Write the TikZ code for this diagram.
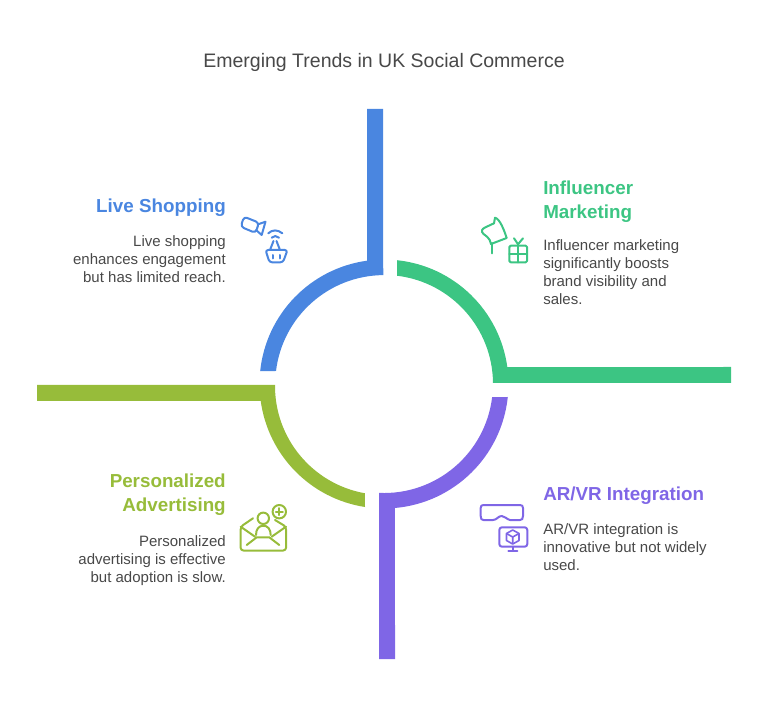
\documentclass[tikz,border=0pt]{standalone}
\usepackage{fontspec}
\setmainfont{Liberation Sans}
\definecolor{cblue}{HTML}{4A86E0}
\definecolor{cgreen}{HTML}{3CC583}
\definecolor{cviolet}{HTML}{7F66E6}
\definecolor{colive}{HTML}{97BC3A}
\definecolor{ctext}{HTML}{484848}
\begin{document}
\begin{tikzpicture}[x=0.75pt, y=0.75pt, yscale=-1]
	\tikzset{
		ttl/.style={inner sep=0pt, text=ctext, font=\fontsize{14.63}{18}\selectfont},
		hd/.style={inner sep=0pt, font=\fontsize{14.1}{18}\selectfont\bfseries},
		bd/.style={inner sep=0pt, text=ctext, font=\fontsize{11.25}{13.5}\selectfont},
		ic/.style={line width=1.5pt, line join=round, line cap=round}
	};
	\useasboundingbox (0, 0) rectangle (768, 720);

	\node[ttl] (title) at (384, 62.5) {Emerging Trends in UK Social Commerce};

	\fill[cblue] (367, 109) -- (367, 260.7) arc[start angle=-97.85, end angle=-174, radius=124.5] -- (276, 371) arc[start angle=-173.1, end angle=-90.5, radius=109] -- (383, 109) -- cycle;
	\fill[cgreen] (397, 260.2) arc[start angle=-84, end angle=-7.85, radius=124.5] -- (731, 367) -- (731, 383) -- (493, 383) arc[start angle=-0.5, end angle=-83.15, radius=109] -- cycle;
	\fill[cviolet] (507.8, 397) arc[start angle=6, end angle=84.93, radius=124.5] -- (395, 659) -- (379, 659) -- (379, 492.9) arc[start angle=92.6, end angle=6.85, radius=109] -- cycle;
	\fill[colive] (37, 385) -- (275, 385) arc[start angle=180.5, end angle=100.1, radius=109] -- (365, 507) arc[start angle=98.8, end angle=172.15, radius=124.5] -- (37, 401) -- cycle;

	\node[hd, text=cblue, anchor=east] (h1) at (226, 208) {Live Shopping};
	\node[bd, anchor=north east, align=right] (b1) at (226, 235.5) {Live shopping\\enhances engagement\\but has limited reach.};

	\node[hd, text=cgreen, anchor=north west, align=left] (h2) at (543, 181) {Influencer\\Marketing};
	\node[bd, anchor=north west, align=left] (b2) at (543, 239) {Influencer marketing\\significantly boosts\\brand visibility and\\sales.};

	\node[hd, text=cviolet, anchor=west] (h3) at (543, 496) {AR/VR Integration};
	\node[bd, anchor=north west, align=left] (b3) at (543, 523.5) {AR/VR integration is\\innovative but not widely\\used.};

	\node[hd, text=colive, anchor=north east, align=right] (h4) at (226, 474) {Personalized\\Advertising};
	\node[bd, anchor=north east, align=right] (b4) at (226, 535.5) {Personalized\\advertising is effective\\but adoption is slow.};

	\draw[ic, cblue, rounded corners=2.5pt] (244, 216.7) -- (259, 222.7) -- (255.5, 233) -- (240.7, 226.7) -- cycle;
	\draw[ic, cblue] (259, 224) -- (265.5, 221.7) -- (261.7, 235) -- (256, 230);
	\draw[ic, cblue] (268.3, 233.3) .. controls (272, 229.5) and (278, 229.5) .. (282.3, 233.3);
	\draw[ic, cblue] (271.7, 237.7) .. controls (273.5, 235.5) and (277, 235.5) .. (279, 237.7);
	\draw[ic, cblue] (273.5, 241) -- (270, 250) (276.5, 241) -- (280, 250);
	\draw[ic, cblue, rounded corners=2pt] (265.5, 250) -- (287.5, 250) -- (283, 262.3) -- (269.5, 262.3) -- cycle;
	\draw[ic, cblue] (272.7, 255) -- (272.7, 258.5) (280, 255) -- (280, 258.5);

	\draw[ic, cgreen] (495, 217.7) .. controls (500, 219) and (504, 230) .. (506.7, 238) -- (491, 244) .. controls (490, 238) and (486, 236) .. (483.5, 234) .. controls (480.5, 231) and (482, 229) .. (485, 227.5) -- (494, 223.3) -- cycle;
	\draw[ic, cgreen] (491.7, 243) -- (491.7, 253.3);
	\draw[ic, cgreen, rounded corners=1pt] (509.3, 245.7) rectangle (527, 262.3);
	\draw[ic, cgreen] (518, 245.7) -- (518, 262.3) (509.3, 254) -- (527, 254);
	\draw[ic, cgreen] (514, 238.3) -- (518, 244.3) -- (523, 238.3);

	\draw[ic, cviolet] (483.5, 505) -- (520, 505) .. controls (522, 505) and (523, 506) .. (523, 508) -- (523, 516) .. controls (523, 519) and (522, 520) .. (520, 520) -- (510, 520) .. controls (506, 519) and (505, 516) .. (501.7, 516) .. controls (498, 516) and (497, 520) .. (493, 520) -- (483.5, 520) .. controls (481.5, 520) and (480.7, 519) .. (480.7, 516) -- (480.7, 508) .. controls (480.7, 506) and (481.5, 505) .. (483.5, 505) -- cycle;
	\draw[ic, cviolet, rounded corners=2pt] (499.3, 527.3) rectangle (527.3, 546.7);
	\draw[ic, cviolet] (512.7, 546.7) -- (512.7, 550.7) (508.3, 550.7) -- (517.3, 550.7);
	\draw[line width=1.2pt, line join=round, cviolet] (512.7, 530) -- (519, 533.5) -- (519, 540.5) -- (512.7, 544) -- (506.5, 540.5) -- (506.5, 533.5) -- cycle;
	\draw[line width=1.2pt, line join=round, cviolet] (506.5, 533.5) -- (512.7, 537) -- (519, 533.5) (512.7, 537) -- (512.7, 544);

	\draw[ic, colive, rounded corners=2pt] (253, 518.3) -- (240.7, 526.7) -- (240.7, 550.5) -- (286, 550.5) -- (286, 526.7) -- (275, 520);
	\draw[ic, colive] (240.7, 526.7) -- (255, 536.7);
	\draw[ic, colive] (286, 526.7) -- (271.7, 536.7);
	\draw[ic, colive] (246.7, 545) -- (256.7, 537.3) -- (269.3, 537.3) -- (279.3, 545);
	\draw[ic, colive] (263.3, 518.3) circle[radius=5.7];
	\draw[ic, colive] (256, 535) .. controls (256, 529) and (259, 525.7) .. (263.3, 525.7) .. controls (267.5, 525.7) and (270.7, 529) .. (270.7, 535);
	\draw[ic, colive] (279.3, 511.7) circle[radius=6.7];
	\draw[ic, colive] (275.8, 511.7) -- (282.8, 511.7) (279.3, 508.2) -- (279.3, 515.2);
\end{tikzpicture}
\end{document}
